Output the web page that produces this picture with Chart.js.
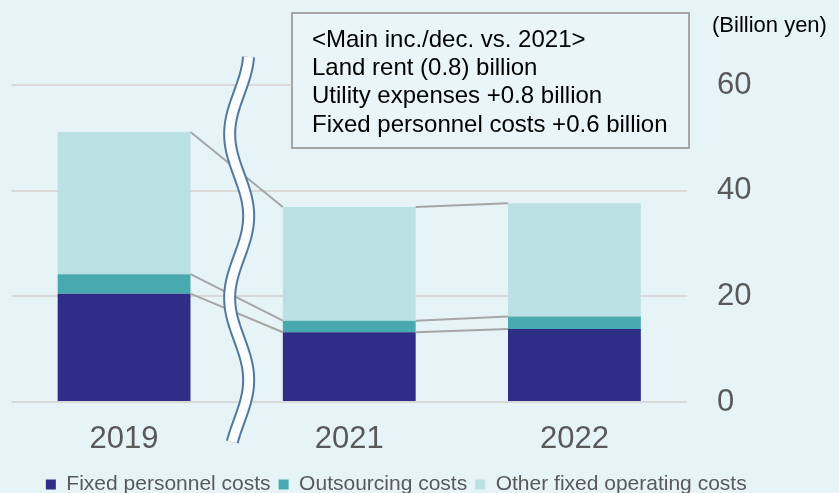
<!DOCTYPE html>
<html lang="en">
<head>
<meta charset="UTF-8">
<title>Fixed costs</title>
<script src="https://cdn.jsdelivr.net/npm/chart.js"></script>
<style>
  html, body { margin: 0; padding: 0; background: #e6f4f8; }
  #wrap { width: 839px; height: 493px; position: relative; }
</style>
</head>
<body>
<div id="wrap"><canvas id="costChart"></canvas></div>
<script>
  const years = ['2019', '2021', '2022'];
  const personnel = [20.5, 13.2, 13.8];
  const outsourcing = [3.7, 2.2, 2.4];
  const otherFixed = [26.9, 21.5, 21.4];
  const yTicks = [0, 20, 40, 60];
  const seriesNames = ['Fixed personnel costs', 'Outsourcing costs', 'Other fixed operating costs'];
  const unitLabel = '(Billion yen)';
  const noteLines = [
    '<Main inc./dec. vs. 2021>',
    'Land rent (0.8) billion',
    'Utility expenses +0.8 billion',
    'Fixed personnel costs +0.6 billion'
  ];

  Chart.defaults.font.family = "'Liberation Sans', Arial, sans-serif";

  // grey lines joining the tops of each stack segment between bars
  const connectors = {
    id: 'connectors',
    afterDatasetsDraw(chart) {
      const ctx = chart.ctx;
      ctx.save();
      ctx.strokeStyle = '#a6a6a6';
      ctx.lineWidth = 2;
      chart.data.datasets.forEach((d, di) => {
        const pts = chart.getDatasetMeta(di).data;
        for (let i = 0; i < pts.length - 1; i++) {
          const a = pts[i], b = pts[i + 1];
          ctx.beginPath();
          ctx.moveTo(a.x + a.width / 2, a.y);
          ctx.lineTo(b.x - b.width / 2, b.y);
          ctx.stroke();
        }
      });
      ctx.restore();
    }
  };

  // wavy axis break between 2019 and 2021
  const breakMark = {
    id: 'breakMark',
    afterDatasetsDraw(chart) {
      const xs = chart.scales.x;
      const cx = (xs.getPixelForValue(0) + xs.getPixelForValue(1)) / 2 + 2.5;
      const ctx = chart.ctx;
      const wave = () => {
        ctx.beginPath();
        for (let y = 57; y <= 442; y += 1) {
          const x = cx + 9.5 * Math.cos(2 * Math.PI * (y - 216) / 164);
          if (y === 57) ctx.moveTo(x, y); else ctx.lineTo(x, y);
        }
      };
      ctx.save();
      wave();
      ctx.strokeStyle = '#52799d';
      ctx.lineWidth = 13;
      ctx.stroke();
      wave();
      ctx.strokeStyle = '#fbfdfe';
      ctx.lineWidth = 9;
      ctx.stroke();
      ctx.restore();
    }
  };

  const notes = {
    id: 'notes',
    afterDraw(chart) {
      const ctx = chart.ctx;
      const area = chart.chartArea;
      ctx.save();
      const bx = 292, by = 13, bw = area.right + 2 - bx, bh = 135;
      ctx.fillStyle = '#e9f5f8';
      ctx.fillRect(bx, by, bw, bh);
      ctx.strokeStyle = '#a6a6a6';
      ctx.lineWidth = 2;
      ctx.strokeRect(bx, by, bw, bh);
      ctx.fillStyle = '#000000';
      ctx.font = "24px 'Liberation Sans', Arial, sans-serif";
      ctx.textBaseline = 'middle';
      ctx.textAlign = 'left';
      noteLines.forEach((t, i) => ctx.fillText(t, bx + 20, 40 + i * 28.4));
      ctx.font = "22px 'Liberation Sans', Arial, sans-serif";
      ctx.fillText(unitLabel, 712, 26);
      ctx.restore();
    }
  };

  const ctx = document.getElementById('costChart').getContext('2d');
  new Chart(ctx, {
    type: 'bar',
    data: {
      labels: years,
      datasets: [
        { label: seriesNames[0], data: personnel, backgroundColor: '#2e2d87' },
        { label: seriesNames[1], data: outsourcing, backgroundColor: '#48a9af' },
        { label: seriesNames[2], data: otherFixed, backgroundColor: '#bbe0e3' }
      ]
    },
    options: {
      responsive: true,
      maintainAspectRatio: false,
      animation: false,
      categoryPercentage: 1,
      barPercentage: 0.59,
      layout: { padding: { left: 11.5, right: 58, top: 85, bottom: -12 } },
      scales: {
        x: {
          stacked: true,
          grid: { display: false, drawTicks: false },
          border: { display: false },
          ticks: { color: '#595959', font: { size: 31 }, padding: 18.5 },
          afterFit(s) { s.height = 64; }
        },
        y: {
          stacked: true,
          position: 'right',
          min: 0,
          max: 60,
          afterBuildTicks(s) { s.ticks = yTicks.map(v => ({ value: v })); },
          ticks: { color: '#595959', font: { size: 31 }, padding: 30 },
          grid: { color: '#d9d9d9', lineWidth: 2, drawTicks: false },
          border: { display: false },
          afterFit(s) { s.width = 94; }
        }
      },
      plugins: {
        legend: {
          position: 'bottom',
          labels: {
            boxWidth: 10,
            boxHeight: 10,
            padding: 8,
            color: '#595959',
            font: { size: 21 }
          }
        },
        tooltip: { enabled: false }
      }
    },
    plugins: [connectors, breakMark, notes]
  });
</script>
</body>
</html>
